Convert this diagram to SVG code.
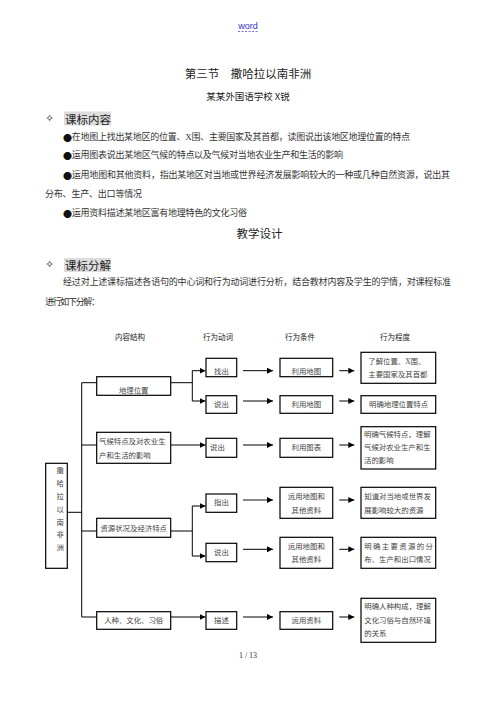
<svg xmlns="http://www.w3.org/2000/svg" width="496" height="702" viewBox="0 0 496 702">
<style>
.sans{font-family:"Noto Sans CJK SC","Liberation Sans",sans-serif;fill:#222}
.serif{font-family:"Liberation Serif","Noto Sans CJK SC",serif;fill:#333}
.body{font-size:9px}
.bul{font-family:"Noto Sans CJK SC",sans-serif;fill:#111}
.dia{font-family:"DejaVu Sans",sans-serif;font-size:11px;fill:#222}
.bx{font-family:"Liberation Serif","Noto Sans CJK SC",serif;font-size:7.4px;fill:#444}
.box{fill:#fff;stroke:#000;stroke-width:1.2}
.con{fill:none;stroke:#000;stroke-width:1}
.hd{font-size:7.5px}
text{dominant-baseline:central}
</style>
<defs>
<marker id="ah" markerUnits="userSpaceOnUse" markerWidth="7" markerHeight="6" refX="6" refY="3" orient="auto">
<path d="M0,0 L6,3 L0,6 z" fill="#000"/>
</marker>
</defs>
<rect width="496" height="702" fill="#fff"/>

<!-- header -->
<g id="header">
<text x="248" y="26" text-anchor="middle" font-family="Liberation Sans,sans-serif" font-size="9" fill="#3333cc">word</text>
<line x1="238" y1="31.5" x2="258" y2="31.5" stroke="#3333cc" stroke-width="0.7" stroke-dasharray="2,1.5"/>
<text class="sans" x="248" y="73" text-anchor="middle" font-size="11.5">第三节　撒哈拉以南非洲</text>
<text class="sans" x="248" y="96" text-anchor="middle" font-size="9.5">某某外国语学校 X锐</text>
</g>

<!-- section 1 -->
<g id="sec1">
<text class="dia" x="49.5" y="118" text-anchor="middle">✧</text>
<rect x="64" y="111.5" width="47" height="14" fill="#ddd"/>
<text class="sans" x="65" y="118.5" font-size="11.5">课标内容</text>
<text class="serif body" x="63" y="137" textLength="347" lengthAdjust="spacing"><tspan class="bul">●</tspan>在地图上找出某地区的位置、X围、主要国家及其首都，读图说出该地区地理位置的特点</text>
<text class="serif body" x="63" y="155" textLength="280" lengthAdjust="spacing"><tspan class="bul">●</tspan>运用图表说出某地区气候的特点以及气候对当地农业生产和生活的影响</text>
<text class="serif body" x="63" y="175" textLength="387" lengthAdjust="spacing"><tspan class="bul">●</tspan>运用地图和其他资料，指出某地区对当地或世界经济发展影响较大的一种或几种自然资源，说出其</text>
<text class="serif body" x="45" y="194" textLength="97" lengthAdjust="spacing">分布、生产、出口等情况</text>
<text class="serif body" x="63" y="213" textLength="184" lengthAdjust="spacing"><tspan class="bul">●</tspan>运用资料描述某地区富有地理特色的文化习俗</text>
<text class="sans" x="259.5" y="233" text-anchor="middle" font-size="11.5">教学设计</text>
</g>

<!-- section 2 -->
<g id="sec2">
<text class="dia" x="49.5" y="264" text-anchor="middle">✧</text>
<rect x="64" y="258" width="47" height="14" fill="#ddd"/>
<text class="sans" x="65" y="265" font-size="11.5">课标分解</text>
<text class="serif body" x="63" y="282" textLength="388" lengthAdjust="spacing">经过对上述课标描述各语句的中心词和行为动词进行分析，结合教材内容及学生的学情，对课程标准</text>
<text class="serif body" x="45" y="302" textLength="55" lengthAdjust="spacing">进行如下分解：</text>
</g>

<!-- column headers -->
<g id="col-headers">
<text class="sans hd" x="130" y="336" text-anchor="middle">内容结构</text>
<text class="sans hd" x="218" y="336" text-anchor="middle">行为动词</text>
<text class="sans hd" x="300" y="336" text-anchor="middle">行为条件</text>
<text class="sans hd" x="395" y="336" text-anchor="middle">行为程度</text>
</g>

<!-- connectors -->
<g id="connectors">
<path class="con" d="M67.3 512.3 H81.7 M81.7 382.7 V617 M81.7 382.7 H96.7 M81.7 445 H96.7 M81.7 531 H96.7 M81.7 617 H96.7"/>
<path class="con" d="M170.7 382.7 H192.3 M192.3 370.7 V401"/>
<path class="con" d="M192.3 370.7 H205.5" marker-end="url(#ah)"/>
<path class="con" d="M192.3 401 H205.5" marker-end="url(#ah)"/>
<path class="con" d="M170.7 445 H205.5" marker-end="url(#ah)"/>
<path class="con" d="M170.7 531 H192.3 M192.3 506 V556"/>
<path class="con" d="M192.3 506 H205.5" marker-end="url(#ah)"/>
<path class="con" d="M192.3 556 H205.5" marker-end="url(#ah)"/>
<path class="con" d="M170.7 617 H205.5" marker-end="url(#ah)"/>

<path class="con" d="M243 370.7 H273" marker-end="url(#ah)"/>
<path class="con" d="M243 401 H273" marker-end="url(#ah)"/>
<path class="con" d="M243 445 H273" marker-end="url(#ah)"/>
<path class="con" d="M243 500 H273" marker-end="url(#ah)" style="stroke:#555;stroke-width:1.4"/>
<path class="con" d="M243 549.3 H273" marker-end="url(#ah)"/>
<path class="con" d="M243 617 H273" marker-end="url(#ah)"/>

<path class="con" d="M339.3 370.7 H354.3" marker-end="url(#ah)"/>
<path class="con" d="M339.3 401 H354.3" marker-end="url(#ah)"/>
<path class="con" d="M339.3 445 H354.3" marker-end="url(#ah)"/>
<path class="con" d="M339.3 500 H354.3" marker-end="url(#ah)"/>
<path class="con" d="M339.3 549.3 H354.3" marker-end="url(#ah)"/>
<path class="con" d="M339.3 617 H354.3" marker-end="url(#ah)"/>
</g>

<!-- root -->
<g id="root">
<rect class="box" x="45.7" y="463.3" width="21.6" height="105"/>
<text class="bx" x="56.5" y="470">撒</text>
<text class="bx" x="56.5" y="483">哈</text>
<text class="bx" x="56.5" y="496">拉</text>
<text class="bx" x="56.5" y="509">以</text>
<text class="bx" x="56.5" y="522">南</text>
<text class="bx" x="56.5" y="534.5">非</text>
<text class="bx" x="56.5" y="547">洲</text>
</g>

<!-- content nodes -->
<g id="n-dili">
<rect class="box" x="96.7" y="376.7" width="74" height="18.6"/>
<text class="bx" x="133.7" y="390" text-anchor="middle">地理位置</text>
</g>
<g id="n-qihou">
<rect class="box" x="96.7" y="432.3" width="74" height="31"/>
<text class="bx" x="99" y="441.7">气候特点及对农业生</text>
<text class="bx" x="99" y="455">产和生活的影响</text>
</g>
<g id="n-ziyuan">
<rect class="box" x="96.7" y="518.3" width="74" height="19"/>
<text class="bx" x="133.7" y="528.5" text-anchor="middle">资源状况及经济特点</text>
</g>
<g id="n-renzhong">
<rect class="box" x="96.7" y="611.7" width="74" height="17.6"/>
<text class="bx" x="133.7" y="620.7" text-anchor="middle">人种、文化、习俗</text>
</g>

<!-- verbs -->
<g id="v-zhaochu">
<rect class="box" x="206" y="358.3" width="30.7" height="18.4"/>
<text class="bx" x="221.4" y="371.5" text-anchor="middle">找出</text>
</g>
<g id="v-shuochu1">
<rect class="box" x="206" y="395.7" width="30.7" height="17.6"/>
<text class="bx" x="221.4" y="404.5" text-anchor="middle">说出</text>
</g>
<g id="v-shuochu2">
<rect class="box" x="206" y="438.3" width="30.7" height="19"/>
<text class="bx" x="210" y="447.7">说出</text>
</g>
<g id="v-zhichu">
<rect class="box" x="206" y="494" width="30.7" height="18.3"/>
<text class="bx" x="221.4" y="502.5" text-anchor="middle">指出</text>
</g>
<g id="v-shuochu3">
<rect class="box" x="206" y="543.3" width="30.7" height="18.4"/>
<text class="bx" x="221.4" y="552.7" text-anchor="middle">说出</text>
</g>
<g id="v-miaoshu">
<rect class="box" x="206" y="611.7" width="30.7" height="17.6"/>
<text class="bx" x="221.4" y="620.7" text-anchor="middle">描述</text>
</g>

<!-- conditions -->
<g id="c-ditu1">
<rect class="box" x="280" y="358.3" width="52.7" height="18.4"/>
<text class="bx" x="306.3" y="371.5" text-anchor="middle">利用地图</text>
</g>
<g id="c-ditu2">
<rect class="box" x="280" y="395.7" width="52.7" height="17.6"/>
<text class="bx" x="306.3" y="404" text-anchor="middle">利用地图</text>
</g>
<g id="c-tubiao">
<rect class="box" x="280" y="438.3" width="52.7" height="19"/>
<text class="bx" x="306.3" y="447.7" text-anchor="middle">利用图表</text>
</g>
<g id="c-ziliao1">
<rect class="box" x="280" y="487.3" width="52.7" height="31"/>
<text class="bx" x="306.3" y="496.7" text-anchor="middle">运用地图和</text>
<text class="bx" x="306.3" y="510" text-anchor="middle">其他资料</text>
</g>
<g id="c-ziliao2">
<rect class="box" x="280" y="537.3" width="52.7" height="31"/>
<text class="bx" x="306.3" y="546.7" text-anchor="middle">运用地图和</text>
<text class="bx" x="306.3" y="559.5" text-anchor="middle">其他资料</text>
</g>
<g id="c-ziliao3">
<rect class="box" x="280" y="611.7" width="52.7" height="17.6"/>
<text class="bx" x="306.3" y="620.7" text-anchor="middle">运用资料</text>
</g>

<!-- degrees -->
<g id="d-1">
<rect class="box" x="361" y="352.3" width="74.7" height="31"/>
<text class="bx" x="368.3" y="361.7">了解位置、X围、</text>
<text class="bx" x="368.3" y="374">主要国家及其首都</text>
</g>
<g id="d-2">
<rect class="box" x="361" y="395.7" width="74.7" height="17.6"/>
<text class="bx" x="369" y="404">明确地理位置特点</text>
</g>
<g id="d-3">
<rect class="box" x="361" y="426.7" width="74.7" height="42.3"/>
<text class="bx" x="364" y="434.3">明确气候特点，理解</text>
<text class="bx" x="364" y="447.7">气候对农业生产和生</text>
<text class="bx" x="364" y="460.7">活的影响</text>
</g>
<g id="d-4">
<rect class="box" x="361" y="487.3" width="74.7" height="31"/>
<text class="bx" x="364.3" y="496.7">知道对当地或世界发</text>
<text class="bx" x="364.3" y="510">展影响较大的资源</text>
</g>
<g id="d-5">
<rect class="box" x="361" y="537.3" width="74.7" height="31"/>
<text class="bx" x="364.3" y="546.7" textLength="68.5" lengthAdjust="spacing">明确主要资源的分</text>
<text class="bx" x="364.3" y="559.5">布、生产和出口情况</text>
</g>
<g id="d-6">
<rect class="box" x="361" y="598.3" width="74.7" height="44"/>
<text class="bx" x="364.3" y="606.7">明确人种构成，理解</text>
<text class="bx" x="364.3" y="620.5">文化习俗与自然环境</text>
<text class="bx" x="364.3" y="633.3">的关系</text>
</g>

<text class="serif" x="248" y="655" text-anchor="middle" font-size="8">1 / 13</text>
</svg>
